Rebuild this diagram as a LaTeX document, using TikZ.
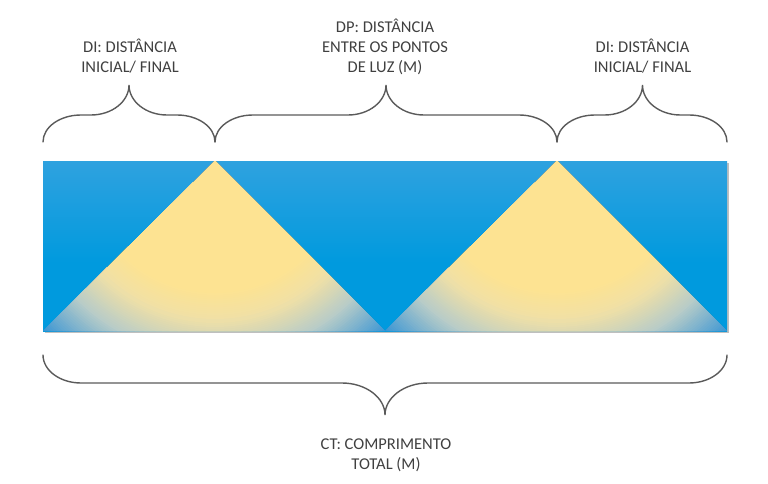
\documentclass[tikz,border=0pt]{standalone}
\usepackage{fontspec}
\setmainfont{Carlito}
\definecolor{bluetop}{RGB}{86,168,224}
\definecolor{bluebot}{RGB}{0,154,222}
\definecolor{coneY}{RGB}{253,227,146}
\definecolor{coneA}{RGB}{240,224,166}
\definecolor{coneB}{RGB}{184,204,200}
\definecolor{coneC}{RGB}{55,148,212}
\definecolor{txt}{RGB}{64,64,64}
\definecolor{bracecol}{RGB}{90,90,90}
\pgfdeclareverticalshading{bgsh}{100bp}{color(0bp)=(bluebot); color(45bp)=(bluebot); color(100bp)=(bluetop)}
\tikzset{
  bracestyle/.style={draw=bracecol, line width=1.4pt, line cap=round},
  label/.style={text=txt, align=center, inner sep=0pt, font=\fontsize{16.5}{20}\selectfont}
}
\newcommand{\lightcone}[1]{%
  \foreach \r in {244,242,...,196}{%
    \pgfmathtruncatemacro\p{100*(244-\r)/48}%
    \fill[coneB!\p!coneC] #1 circle[radius=\r];
  }
  \foreach \r in {194,192,...,162}{%
    \pgfmathtruncatemacro\p{100*(196-\r)/36}%
    \fill[coneA!\p!coneB] #1 circle[radius=\r];
  }
  \foreach \r in {158,156,...,132}{%
    \pgfmathtruncatemacro\p{100*(160-\r)/28}%
    \fill[coneY!\p!coneA] #1 circle[radius=\r];
  }
  \fill[coneY] #1 circle[radius=131];
}
\begin{document}
\begin{tikzpicture}[x=1pt,y=-1pt]
\useasboundingbox (0,0) rectangle (768,484);
% shadow
\fill[black, opacity=0.25] (45,163) rectangle (729,333);
% background
\shade[shading=bgsh] (43,161) rectangle (727,331);
\coordinate (apexA) at (215,161);
\coordinate (apexB) at (557,161);
% light cones
\begin{scope}
  \clip (43,331) -- (apexA) -- (385,331) -- cycle;
  \lightcone{(apexA)}
\end{scope}
\begin{scope}
  \clip (385,331) -- (apexB) -- (727,331) -- cycle;
  \lightcone{(apexB)}
\end{scope}
% top braces
\draw[bracestyle] (43,142) .. controls (43,127) and (60,115) .. (81,115) -- (91,115)
  .. controls (112,115) and (129,101.5) .. (129,85)
  .. controls (129,101.5) and (146,115) .. (167,115) -- (177,115)
  .. controls (198,115) and (215,127) .. (215,142);
\draw[bracestyle] (215,142) .. controls (215,127) and (232,115) .. (253,115) -- (348,115)
  .. controls (369,115) and (386,101.5) .. (386,85)
  .. controls (386,101.5) and (403,115) .. (424,115) -- (519,115)
  .. controls (540,115) and (557,127) .. (557,142);
\draw[bracestyle] (557,142) .. controls (557,127) and (574,115) .. (595,115) -- (604.5,115)
  .. controls (625.5,115) and (642.5,101.5) .. (642.5,85)
  .. controls (642.5,101.5) and (659.5,115) .. (680.5,115) -- (689,115)
  .. controls (710,115) and (727,127) .. (727,142);
% bottom brace
\draw[bracestyle] (43,355) .. controls (43,370.4) and (60,383) .. (81,383) -- (342,383)
  .. controls (365.6,383) and (385,397.4) .. (385,415)
  .. controls (385,397.4) and (404.4,383) .. (428,383) -- (689,383)
  .. controls (710,383) and (727,370.4) .. (727,355);
% labels
\node[label] (dileft) at (130,56) {DI: DISTÂNCIA\\INICIAL/ FINAL};
\node[label] (dp) at (385,46.5) {DP: DISTÂNCIA\\ENTRE OS PONTOS\\DE LUZ (M)};
\node[label] (diright) at (642.5,56) {DI: DISTÂNCIA\\INICIAL/ FINAL};
\node[label] (ct) at (386,455) {CT: COMPRIMENTO\\TOTAL (M)};
\end{tikzpicture}
\end{document}
